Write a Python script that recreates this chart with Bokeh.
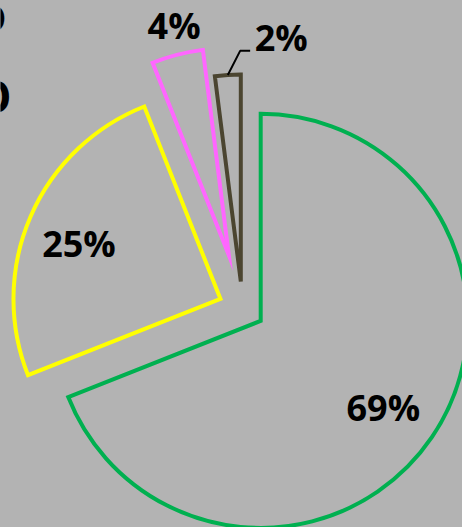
import math
from bokeh.plotting import figure
from bokeh.models import ColumnDataSource, Range1d
from bokeh.embed import file_html
from bokeh.resources import INLINE
from bokeh.core.properties import value

# ---- data ----
categories = ["Slice A", "Slice B", "Slice C", "Slice D"]
shares = [69, 25, 4, 2]
labels = ["69%", "25%", "4%", "2%"]
colors = ["#00b050", "#ffff00", "#ff66ff", "#4b4530"]

# ---- layout / style ----
W, H = 462, 527
BG = "#b3b3b3"
CX, CY = 242, H - 308
R = 207
explode = [22, 24, 55, 27]
label_dist = [150, 152, 236, 247]
label_shift = [-1, 2, -1, -13]
FONT = value("Open Sans")

p = figure(width=W, height=H, x_range=Range1d(0, W), y_range=Range1d(0, H),
           output_backend="svg", toolbar_location=None, min_border=0,
           x_axis_type=None, y_axis_type=None,
           background_fill_color=BG, border_fill_color=BG, outline_line_color=None)
p.grid.visible = False

total = float(sum(shares))
cum = 0.0
vx, vy, st, en, lx, ly = [], [], [], [], [], []
mids = []
for v, e, d, s in zip(shares, explode, label_dist, label_shift):
    a_end = 90 - cum / total * 360
    a_start = a_end - v / total * 360
    cum += v
    mid = math.radians((a_start + a_end) / 2)
    mids.append(mid)
    x0 = CX + e * math.cos(mid)
    y0 = CY + e * math.sin(mid)
    vx.append(x0); vy.append(y0)
    st.append(a_start); en.append(a_end)
    la = mid + math.radians(s)
    lx.append(x0 + d * math.cos(la))
    ly.append(y0 + d * math.sin(la))

src = ColumnDataSource(dict(x=vx, y=vy, start=st, end=en, color=colors,
                            lx=lx, ly=ly, label=labels, cat=categories))

p.wedge(x="x", y="y", radius=R, start_angle="start", end_angle="end",
        start_angle_units="deg", end_angle_units="deg", direction="anticlock",
        fill_color=None, line_color="color", line_width=4, line_join="miter",
        source=src)

p.text(x="lx", y="ly", text="label", text_align="center", text_baseline="middle",
       text_font=FONT, text_font_style="bold", text_font_size="36px",
       text_color="#000000", source=src)

# leader line for the smallest slice
i = 3
sx = vx[i] + R * math.cos(mids[i])
sy = vy[i] + R * math.sin(mids[i])
p.line([sx, lx[i] - 41, lx[i] - 31], [sy, ly[i] - 13, ly[i] - 13],
       line_color="#000000", line_width=2)

# cut-off title glyphs at the left edge (partly outside the picture, as in the reference)
p.text(x=[6], y=[H - 16], text=["O"], text_align="right", text_baseline="middle",
       text_font=FONT, text_font_style="bold", text_font_size="38px", text_color="#000000")
p.text(x=[11], y=[H - 95], text=["O"], text_align="right", text_baseline="middle",
       text_font=FONT, text_font_style="bold", text_font_size="44px", text_color="#000000")

html = file_html(p, INLINE)
html = html.replace("<head>", "<head><style>html,body{margin:0;padding:0;background:#b3b3b3;overflow:hidden}</style>", 1)
open("out.html", "w").write(html)
